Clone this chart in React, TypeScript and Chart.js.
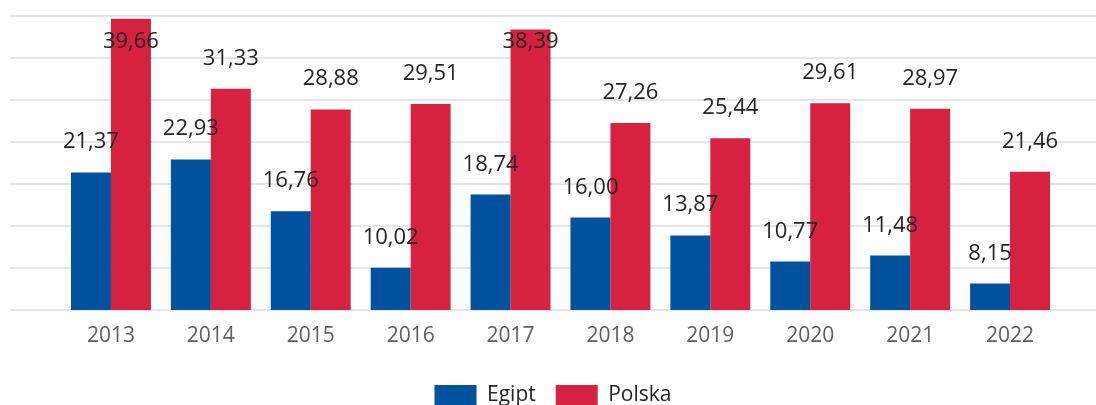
import React, { useEffect, useRef } from "react";
import { Chart, registerables } from "chart.js";

Chart.register(...registerables);

const years = ["2013", "2014", "2015", "2016", "2017", "2018", "2019", "2020", "2021", "2022"];
const egipt = [21.37, 22.93, 16.76, 10.02, 18.74, 16.0, 13.87, 10.77, 11.48, 8.15];
const polska = [39.66, 31.33, 28.88, 29.51, 38.39, 27.26, 25.44, 29.61, 28.97, 21.46];
const seriesNames = ["Egipt", "Polska"];
const seriesColors = ["#00529F", "#D62240"];

const FONT = "'Open Sans', 'Noto Sans', sans-serif";

const labelPlugin = {
  id: "valueLabels",
  afterDatasetsDraw(chart: any) {
    const ctx = chart.ctx;
    const area = chart.chartArea;
    ctx.save();
    ctx.font = `22px ${FONT}`;
    ctx.fillStyle = "#252423";
    ctx.textAlign = "center";
    ctx.textBaseline = "alphabetic";
    chart.data.datasets.forEach((ds: any, di: number) => {
      const meta = chart.getDatasetMeta(di);
      meta.data.forEach((bar: any, i: number) => {
        const v = ds.data[i] as number;
        const txt = v.toFixed(2).replace(".", ",");
        const y = Math.max(bar.y - 24, area.top + 32);
        ctx.fillText(txt, bar.x, y);
      });
    });
    ctx.restore();
  },
};

export default function App() {
  const ref = useRef<HTMLCanvasElement | null>(null);
  useEffect(() => {
    if (!ref.current) return;
    const chart = new Chart(ref.current, {
      type: "bar",
      data: {
        labels: years,
        datasets: [
          { label: seriesNames[0], data: egipt, backgroundColor: seriesColors[0] },
          { label: seriesNames[1], data: polska, backgroundColor: seriesColors[1] },
        ],
      },
      options: {
        responsive: false,
        animation: false,
        devicePixelRatio: 1,
        datasets: { bar: { categoryPercentage: 0.8, barPercentage: 1.0 } },
        layout: { padding: { left: 10, right: 0, top: 16, bottom: 0 } },
        scales: {
          x: {
            grid: { display: false },
            border: { display: false },
            ticks: { color: "#605E5C", font: { family: FONT, size: 21 }, padding: 5 },
            afterFit: (s: any) => {
              s.height = 55;
            },
          },
          y: {
            position: "left",
            min: 5,
            max: 40,
            ticks: { display: false, stepSize: 5 },
            border: { display: false },
            grid: { color: "#E6E6E6", lineWidth: 2, drawTicks: true, tickLength: 51 },
            afterFit: (s: any) => {
              s.width = 51;
            },
          },
          y2: {
            position: "right",
            min: 5,
            max: 40,
            ticks: { display: false, stepSize: 5 },
            border: { display: false },
            grid: { color: "#E6E6E6", lineWidth: 2, drawOnChartArea: false, drawTicks: true, tickLength: 36 },
            afterFit: (s: any) => {
              s.width = 36;
            },
          },
        },
        plugins: {
          legend: {
            position: "bottom",
            labels: {
              boxWidth: 42,
              boxHeight: 21,
              padding: 20,
              color: "#252423",
              font: { family: FONT, size: 21 },
            },
          },
          tooltip: { enabled: false },
        },
      },
      plugins: [labelPlugin],
    });
    return () => chart.destroy();
  }, []);
  return (
    <div style={{ position: "absolute", left: 0, top: 0, width: 1096, height: 416 }}>
      <canvas ref={ref} width={1096} height={416} />
    </div>
  );
}
